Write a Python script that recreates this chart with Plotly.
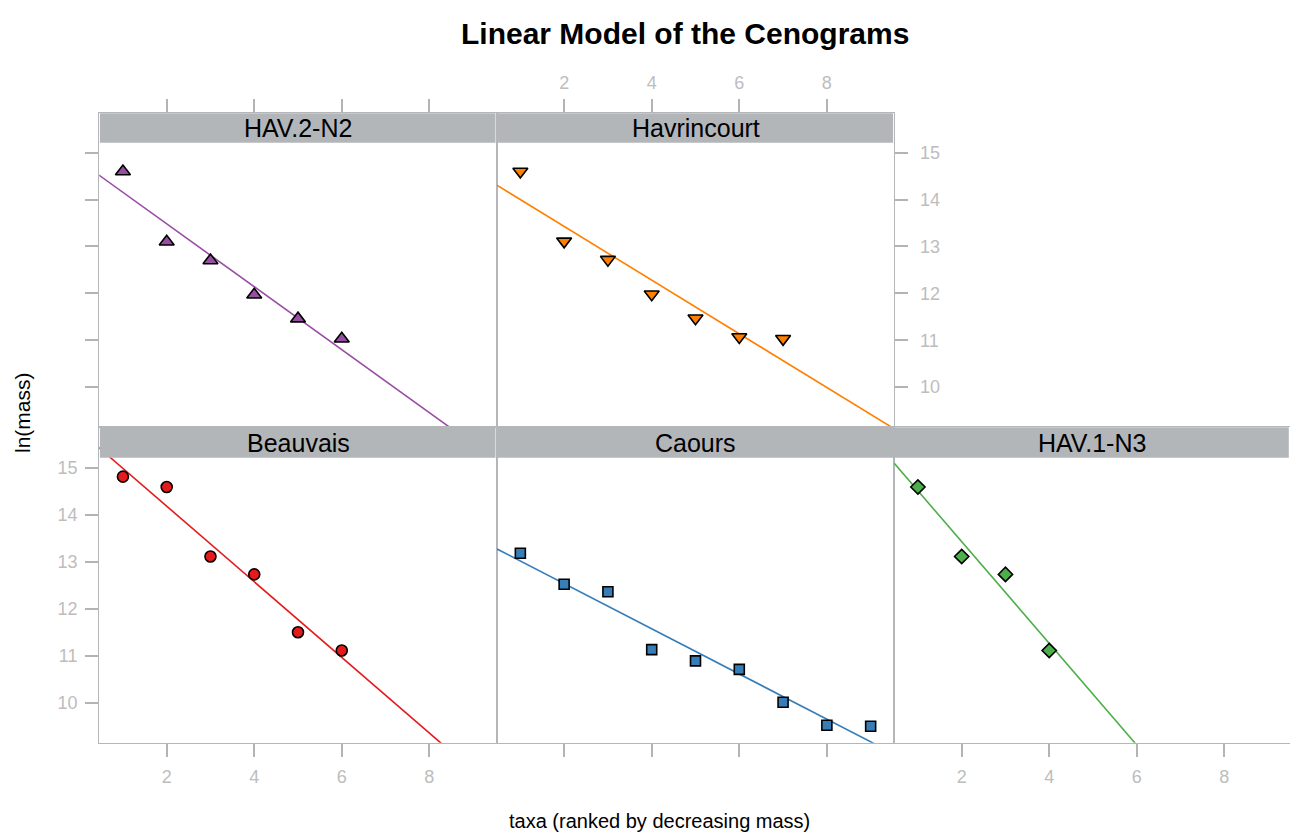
import numpy as np
import plotly.graph_objects as go

# ---------------- data ----------------
panels = ["HAV.2-N2", "Havrincourt", "Beauvais", "Caours", "HAV.1-N3"]
hav2_x = [1, 2, 3, 4, 5, 6]
hav2_y = [14.60, 13.10, 12.70, 11.97, 11.46, 11.03]
havr_x = [1, 2, 3, 4, 5, 6, 7]
havr_y = [14.60, 13.11, 12.72, 11.98, 11.47, 11.07, 11.03]
beau_x = [1, 2, 3, 4, 5, 6]
beau_y = [14.81, 14.59, 13.11, 12.73, 11.50, 11.11]
caou_x = [1, 2, 3, 4, 5, 6, 7, 8, 9]
caou_y = [13.18, 12.52, 12.36, 11.13, 10.89, 10.71, 10.01, 9.52, 9.50]
hav1_x = [1, 2, 3, 4]
hav1_y = [14.59, 13.11, 12.73, 11.11]
x_ticks = [2, 4, 6, 8]
y_ticks = [10, 11, 12, 13, 14, 15]

colors = ["#984EA3", "#FF7F00", "#E41A1C", "#377EB8", "#4DAF4A"]
symbols = ["triangle-up", "triangle-down", "circle", "square", "diamond"]
msizes = [13, 13, 11, 10, 11]

# ---------------- geometry (pixels) ----------------
W, H = 1290, 832
def fx(p): return p / W
def fy(p): return 1 - p / H

cols = [(99.3, 496.7), (496.7, 894.3), (894.3, 1290.0)]
rows = [(113.3, 426.7), (427.3, 742.7)]        # include strip
strip_h = [29.4, 30.4]
xr = [0.46, 9.54]
xr3 = [0.46, 0.46 + (1290.0 - 894.3) / ((496.7 - 99.3) / (9.54 - 0.46))]
yr_top = [9.155, 15.0 + (152.7 - 113.3) / 46.8]
yr_bot = [9.149, 15.0 + (467.7 - 427.3) / 47.0]

# panel -> (col, row)
pos = [(0, 0), (1, 0), (0, 1), (1, 1), (2, 1)]
xs_all = [hav2_x, havr_x, beau_x, caou_x, hav1_x]
ys_all = [hav2_y, havr_y, beau_y, caou_y, hav1_y]

FONT = "Liberation Sans, Arial, sans-serif"
LINEC = "#b4b6b9"
TICKC = "#b4b4b4"
TICKFONT = dict(family=FONT, size=18, color="#bdbdbd")

fig = go.Figure()

for i, name in enumerate(panels):
    ax = "" if i == 0 else str(i + 1)
    xs, ys = xs_all[i], ys_all[i]
    slope, icpt = np.polyfit(xs, ys, 1)
    lx = np.array([0.0, 10.0])
    fig.add_trace(go.Scatter(x=lx, y=icpt + slope * lx, mode="lines",
                             line=dict(color=colors[i], width=1.6),
                             xaxis="x" + ax, yaxis="y" + ax, showlegend=False,
                             hoverinfo="skip"))
    fig.add_trace(go.Scatter(x=xs, y=ys, mode="markers",
                             marker=dict(symbol=symbols[i], size=msizes[i], color=colors[i],
                                         line=dict(color="black", width=1.6)),
                             xaxis="x" + ax, yaxis="y" + ax, showlegend=False,
                             name=name))

def xaxis(col, row, side, ticks, labels, rng):
    c = cols[col]
    return dict(domain=[fx(c[0]), fx(c[1])], range=rng, side=side,
                ticks="outside" if ticks else "", ticklen=13, tickwidth=1.5, tickcolor=TICKC,
                tickvals=x_ticks, showticklabels=labels, tickfont=TICKFONT,
                ticklabelstandoff=5 if side == "bottom" else 3,
                showline=True, mirror=True, linecolor=LINEC, linewidth=1.3,
                showgrid=False, zeroline=False, fixedrange=True)

def yaxis(row, side, ticks, labels):
    r = rows[row]
    return dict(domain=[fy(r[1]), fy(r[0])], range=yr_top if row == 0 else yr_bot, side=side,
                ticks="outside" if ticks else "", ticklen=13, tickwidth=1.5, tickcolor=TICKC,
                tickvals=y_ticks, showticklabels=labels, tickfont=TICKFONT,
                ticklabelstandoff=4 if side == "left" else 8,
                showline=True, mirror=True, linecolor=LINEC, linewidth=1.3,
                showgrid=False, zeroline=False, fixedrange=True)

layout = dict(
    width=W, height=H, margin=dict(l=0, r=0, t=0, b=0),
    paper_bgcolor="white", plot_bgcolor="white", showlegend=False,
    xaxis=xaxis(0, 0, "top", True, False, xr), yaxis=yaxis(0, "left", True, False),
    xaxis2=xaxis(1, 0, "top", True, True, xr), yaxis2=yaxis(0, "right", True, True),
    xaxis3=xaxis(0, 1, "bottom", True, True, xr), yaxis3=yaxis(1, "left", True, True),
    xaxis4=xaxis(1, 1, "bottom", True, False, xr), yaxis4=yaxis(1, "left", False, False),
    xaxis5=xaxis(2, 1, "bottom", True, True, xr3), yaxis5=yaxis(1, "right", False, False),
)
for i in range(5):
    ax = "" if i == 0 else str(i + 1)
    layout["xaxis" + ax]["anchor"] = "y" + ax
    layout["yaxis" + ax]["anchor"] = "x" + ax

shapes, annotations = [], []
for i, name in enumerate(panels):
    c, r = pos[i]
    x0, x1 = cols[c]
    y0 = rows[r][0]
    y1 = y0 + strip_h[r]
    shapes.append(dict(type="rect", xref="paper", yref="paper", layer="above",
                       x0=fx(x0 + 0.6), x1=fx(min(x1 - 1.2, 1290)), y0=fy(y1), y1=fy(y0),
                       fillcolor="#b3b6b9", line=dict(width=0)))
    annotations.append(dict(text=name, xref="paper", yref="paper",
                            x=fx((x0 + min(x1, 1290.0)) / 2), y=fy((y0 + y1) / 2),
                            xanchor="center", yanchor="middle", showarrow=False,
                            font=dict(family=FONT, size=25, color="black")))

annotations.append(dict(text="<b>Linear Model of the Cenograms</b>", xref="paper", yref="paper",
                        x=fx(685), y=fy(33), xanchor="center", yanchor="middle", showarrow=False,
                        font=dict(family=FONT, size=30, color="black")))
annotations.append(dict(text="taxa (ranked by decreasing mass)", xref="paper", yref="paper",
                        x=fx(659), y=fy(821), xanchor="center", yanchor="middle", showarrow=False,
                        font=dict(family=FONT, size=20, color="black")))
annotations.append(dict(text="ln(mass)", xref="paper", yref="paper", textangle=-90,
                        x=fx(22), y=fy(413), xanchor="center", yanchor="middle", showarrow=False,
                        font=dict(family=FONT, size=21, color="black")))

layout["shapes"] = shapes
layout["annotations"] = annotations
fig.update_layout(**layout)
fig.write_html("out.html", config={"displayModeBar": False},
               post_script="document.body.style.margin='0';document.body.style.overflow='hidden';")
